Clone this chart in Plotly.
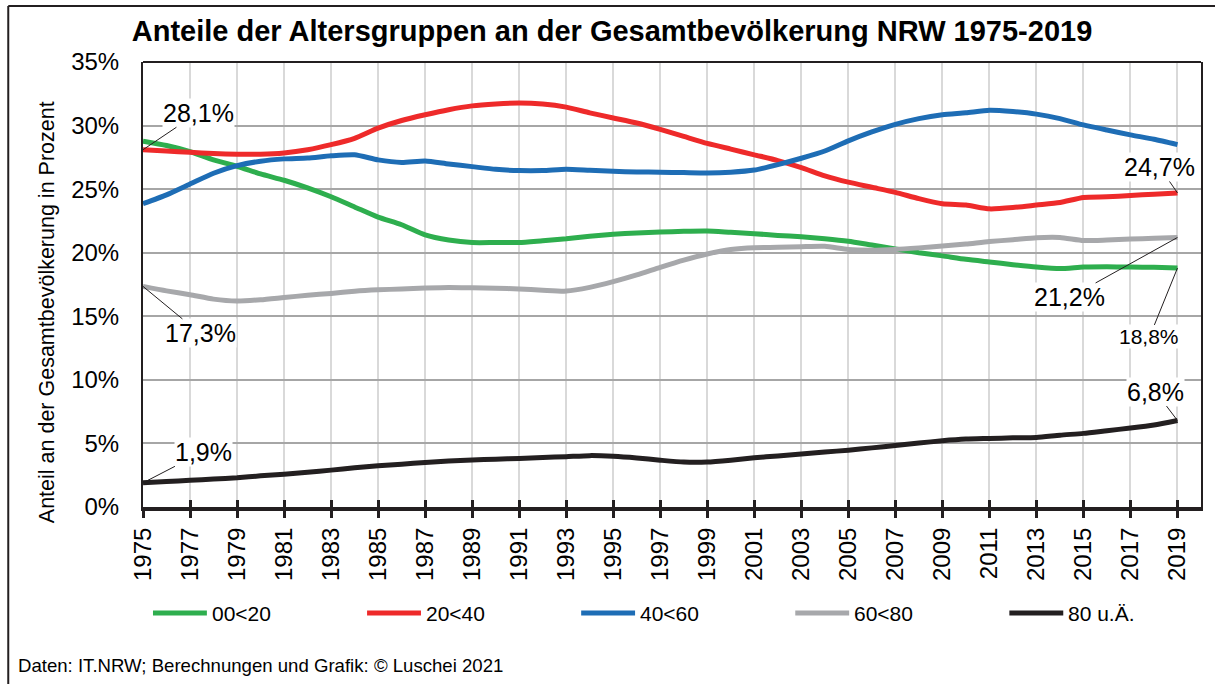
import plotly.graph_objects as go

# Daten
years = list(range(1975, 2020))

anteil_00_20 = [28.77, 28.43, 27.95, 27.3, 26.8, 26.2, 25.7, 25.1, 24.4, 23.6,
                22.8, 22.2, 21.4, 21.0, 20.8, 20.8, 20.8, 20.95, 21.1, 21.3,
                21.45, 21.55, 21.63, 21.68, 21.7, 21.6, 21.5, 21.36, 21.25, 21.1,
                20.9, 20.6, 20.3, 20.0, 19.75, 19.48, 19.27, 19.06, 18.87, 18.75,
                18.87, 18.9, 18.87, 18.85, 18.8]
anteil_20_40 = [28.1, 28.0, 27.9, 27.8, 27.75, 27.75, 27.85, 28.1, 28.5, 29.0,
                29.8, 30.4, 30.85, 31.25, 31.55, 31.7, 31.78, 31.7, 31.45, 31.0,
                30.6, 30.2, 29.7, 29.15, 28.6, 28.15, 27.7, 27.25, 26.7, 26.05,
                25.55, 25.15, 24.75, 24.25, 23.85, 23.75, 23.45, 23.55, 23.75, 23.95,
                24.35, 24.4, 24.5, 24.6, 24.7]
anteil_40_60 = [23.85, 24.55, 25.4, 26.25, 26.85, 27.2, 27.38, 27.45, 27.62, 27.7,
                27.3, 27.1, 27.22, 26.98, 26.77, 26.56, 26.46, 26.46, 26.56, 26.48,
                26.4, 26.35, 26.33, 26.3, 26.27, 26.33, 26.5, 26.93, 27.43, 28.0,
                28.8, 29.5, 30.1, 30.55, 30.85, 31.0, 31.2, 31.1, 30.9, 30.55,
                30.05, 29.65, 29.27, 28.92, 28.5]
anteil_60_80 = [17.35, 17.0, 16.7, 16.35, 16.2, 16.3, 16.48, 16.65, 16.8, 16.97,
                17.08, 17.15, 17.22, 17.27, 17.24, 17.2, 17.15, 17.05, 16.98, 17.27,
                17.72, 18.25, 18.85, 19.42, 19.9, 20.25, 20.4, 20.42, 20.47, 20.5,
                20.25, 20.2, 20.26, 20.38, 20.52, 20.68, 20.88, 21.02, 21.18, 21.2,
                20.96, 21.0, 21.07, 21.13, 21.2]
anteil_80 = [1.9, 2.0, 2.1, 2.2, 2.3, 2.45, 2.58, 2.74, 2.9, 3.08,
             3.24, 3.37, 3.5, 3.62, 3.7, 3.76, 3.82, 3.89, 3.96, 4.04,
             3.99, 3.86, 3.68, 3.53, 3.53, 3.68, 3.87, 4.02, 4.16, 4.32,
             4.47, 4.65, 4.84, 5.03, 5.21, 5.34, 5.39, 5.44, 5.47, 5.65,
             5.79, 6.0, 6.21, 6.45, 6.8]

series_names = ["00<20", "20<40", "40<60", "60<80", "80 u.Ä."]
series_values = [anteil_00_20, anteil_20_40, anteil_40_60, anteil_60_80, anteil_80]
series_colors = ["#2eae4e", "#ee2a2a", "#1e6db5", "#a7a8ab", "#231f20"]

# Beschriftungen: (Reihe, Jahr, Text, ax, ay, Schriftgröße)
labels = [
    (1, 1975, "28,1%", 55, -37, 25),
    (3, 1975, "17,3%", 57, 47, 25),
    (4, 1975, "1,9%", 60, -31, 25),
    (1, 2019, "24,7%", -18, -26, 25),
    (3, 2019, "21,2%", -108, 60, 25),
    (0, 2019, "18,8%", -28, 69, 21),
    (4, 2019, "6,8%", -22, -29, 25),
]

FONT = "Liberation Sans, Arial, sans-serif"
DARK = "#231f20"

# Plotbereich in Pixeln
W, H = 1215, 684
L, R, T, B = 143, 12, 62, 177
PW, PH = W - L - R, H - T - B


def px_x(px):
    return (px - L) / PW


def px_y(py):
    return (H - B - py) / PH


fig = go.Figure()
for name, vals, col in zip(series_names, series_values, series_colors):
    fig.add_trace(go.Scatter(
        x=years, y=vals, name=name, mode="lines",
        line=dict(color=col, width=5, shape="spline", smoothing=0.6),
        showlegend=False,
    ))

# unsichtbare Spur fuer die zweite x-Achse (Ticks nach innen)
fig.add_trace(go.Scatter(x=years, y=anteil_80, xaxis="x2", mode="lines",
                         line=dict(width=0), opacity=0, showlegend=False,
                         hoverinfo="skip"))

annotations = []
for idx, yr, txt, ax, ay, fs in labels:
    annotations.append(dict(
        x=yr, y=series_values[idx][years.index(yr)], xref="x", yref="y",
        text=txt, showarrow=True, arrowhead=0, arrowwidth=1, arrowcolor=DARK,
        ax=ax, ay=ay, bgcolor="white", borderpad=0,
        font=dict(family=FONT, size=fs, color="black"),
    ))

# Achsentitel
annotations.append(dict(
    x=px_x(33), y=px_y(312), xref="paper", yref="paper", showarrow=False,
    text="Anteil an der Gesamtbevölkerung in Prozent", textangle=-90,
    font=dict(family=FONT, size=21.5, color="black"),
))

# Quelle
annotations.append(dict(
    x=px_x(16), y=px_y(665), xref="paper", yref="paper", showarrow=False,
    xanchor="left", yanchor="middle",
    text="Daten: IT.NRW; Berechnungen und Grafik: © Luschei 2021",
    font=dict(family=FONT, size=18.6, color="black"),
))

shapes = []
# Legende (manuell, mit langen Linienmustern)
for i, (name, col) in enumerate(zip(series_names, series_colors)):
    x0 = 153 + 214.5 * i
    shapes.append(dict(type="line", xref="paper", yref="paper",
                       x0=px_x(x0), x1=px_x(x0 + 54), y0=px_y(613), y1=px_y(613),
                       line=dict(color=col, width=5)))
    annotations.append(dict(
        x=px_x(x0 + 57), y=px_y(613), xref="paper", yref="paper",
        showarrow=False, xanchor="left", yanchor="middle", text=name,
        font=dict(family=FONT, size=21, color="black"),
    ))

# oberer Rand des Plotbereichs
shapes.append(dict(type="line", xref="paper", yref="paper", x0=0, x1=1, y0=1, y1=1,
                   line=dict(color=DARK, width=2)))
# aeusserer Rahmen (links und oben)
shapes.append(dict(type="line", xref="paper", yref="paper",
                   x0=px_x(8), x1=px_x(8), y0=px_y(H + 5), y1=px_y(6),
                   line=dict(color=DARK, width=2)))
shapes.append(dict(type="line", xref="paper", yref="paper",
                   x0=px_x(8), x1=px_x(W + 5), y0=px_y(6), y1=px_y(6),
                   line=dict(color=DARK, width=2)))

fig.update_layout(
    width=W, height=H,
    margin=dict(l=L, r=R, t=T, b=B),
    paper_bgcolor="white", plot_bgcolor="white",
    font=dict(family=FONT, color="black"),
    title=dict(text="<b>Anteile der Altersgruppen an der Gesamtbevölkerung NRW 1975-2019</b>",
               x=612 / W, y=1 - 31 / H, xanchor="center", yanchor="middle",
               font=dict(family=FONT, size=29, color="black")),
    annotations=annotations,
    shapes=shapes,
    xaxis=dict(range=[1975, 2020], tickmode="linear", tick0=1975, dtick=2,
               tickangle=-90, ticks="outside", ticklen=7, tickwidth=3, tickcolor=DARK,
               showline=True, linewidth=4, linecolor=DARK,
               showgrid=True, gridcolor="#d9d9d9", gridwidth=1.5, zeroline=False,
               tickfont=dict(family=FONT, size=24, color="black")),
    xaxis2=dict(overlaying="x", matches="x", anchor="y", side="bottom",
                tickmode="linear", tick0=1975, dtick=2, ticks="inside", ticklen=7,
                tickwidth=3, tickcolor=DARK, showticklabels=False, showgrid=False,
                showline=False, zeroline=False),
    yaxis=dict(range=[0, 35], tickmode="linear", tick0=0, dtick=5, ticksuffix="%",
               showline=True, linewidth=2, linecolor=DARK, mirror=True,
               showgrid=True, gridcolor="#a6a6a6", gridwidth=1.5, zeroline=False,
               ticks="", ticklabelstandoff=17,
               tickfont=dict(family=FONT, size=24, color="black")),
)

fig.write_html("out.html", config={"displayModeBar": False},
               post_script="document.body.style.margin='0';")
